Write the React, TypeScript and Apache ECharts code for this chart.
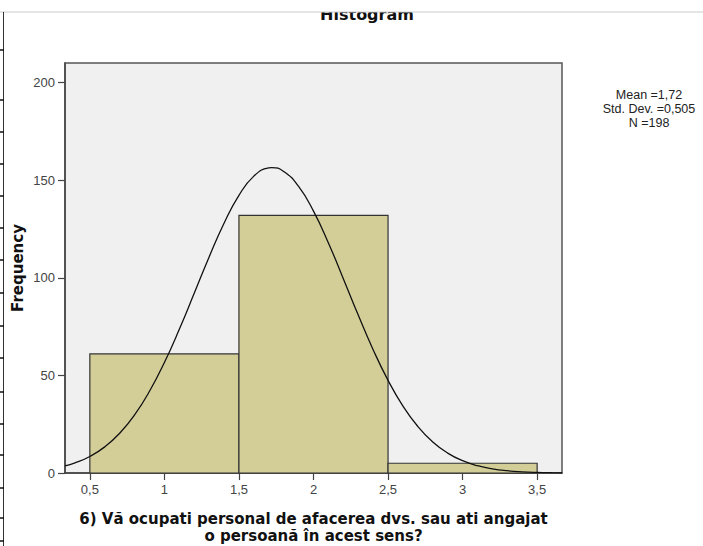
import React, { useEffect, useRef } from "react";
import * as echarts from "echarts";

// Histogram bins (value 1, 2, 3) and their frequencies
const binStart = [0.5, 1.5, 2.5];
const binEnd = [1.5, 2.5, 3.5];
const frequencies = [61, 132, 5];

// Normal curve (Mean 1.72, SD 0.505, N 198)
const curveX = [0.333, 0.4, 0.5, 0.6, 0.7, 0.8, 0.9, 1.0, 1.1, 1.2, 1.3, 1.4, 1.5, 1.6, 1.7, 1.72, 1.8, 1.9, 2.0, 2.1, 2.2, 2.3, 2.4, 2.5, 2.6, 2.7, 2.8, 2.9, 3.0, 3.1, 3.2, 3.3, 3.4, 3.5, 3.6, 3.667];
const curveY = [3.6, 5.14, 8.45, 13.38, 20.34, 29.76, 41.85, 56.6, 73.61, 92.04, 110.67, 127.95, 142.24, 152.05, 156.28, 156.4, 154.45, 146.77, 134.12, 117.84, 99.55, 80.87, 63.17, 47.45, 34.26, 23.8, 15.89, 10.2, 6.3, 3.74, 2.13, 1.17, 0.62, 0.31, 0.15, 0.09];

const xTicks = [0.5, 1, 1.5, 2, 2.5, 3, 3.5];
const yTicks = [0, 50, 100, 150, 200];

const statsLines = ["Mean =1,72", "Std. Dev. =0,505", "N =198"];
const titleText = "Histogram";
const xAxisTitle = "6) Vă ocupati personal de afacerea dvs. sau ati angajat\no persoană în acest sens?";
const yAxisTitle = "Frequency";

// decorative row marks of the cropped table on the left edge
const leftMarksY = [50, 100, 132, 164, 196, 228, 260, 293, 326, 358, 392, 424, 455, 488, 518, 541];

const FONT = "'Liberation Sans', Arial, sans-serif";
const BOLD_FONT = "'DejaVu Sans', Verdana, sans-serif";

export default function App() {
  const ref = useRef<HTMLDivElement>(null);

  useEffect(() => {
    if (!ref.current) return;
    const chart = echarts.init(ref.current, undefined, { renderer: "svg" });

    const barData = frequencies.map((f, i) => [binStart[i], binEnd[i], f]);
    const curveData = curveX.map((x, i) => [x, curveY[i]]);

    const leftGraphics: any[] = [
      {
        type: "line",
        shape: { x1: 3.5, y1: 12, x2: 3.5, y2: 546 },
        style: { stroke: "#333", lineWidth: 1 },
        z: 100,
      },
      ...leftMarksY.map((y) => ({
        type: "line",
        shape: { x1: 0, y1: y, x2: 4, y2: y },
        style: { stroke: "#111", lineWidth: 1.5 },
        z: 100,
      })),
    ];

    chart.setOption({
      animation: false,
      backgroundColor: "#ffffff",
      textStyle: { fontFamily: FONT },
      grid: {
        left: 65,
        right: 141,
        top: 63,
        bottom: 73,
        outerBoundsMode: "none",
        containLabel: false,
        show: true,
        backgroundColor: "#F0F0F0",
        borderColor: "#555555",
        borderWidth: 1.5,
      },
      xAxis: {
        type: "value",
        min: 1 / 3,
        max: 11 / 3,
        name: xAxisTitle,
        nameLocation: "middle",
        nameGap: 37,
        nameTextStyle: {
          fontFamily: BOLD_FONT,
          fontWeight: "bold",
          fontSize: 15,
          color: "#111",
          lineHeight: 17,
        },
        axisLine: { show: true, onZero: false, lineStyle: { color: "#444", width: 1.5 } },
        axisTick: {
          show: true,
          length: 7,
          customValues: xTicks,
          lineStyle: { color: "#444", width: 1.2 },
        },
        axisLabel: {
          show: true,
          customValues: xTicks,
          margin: 10,
          fontSize: 13,
          color: "#444",
          fontFamily: FONT,
          formatter: (v: number) => String(v).replace(".", ","),
        },
        splitLine: { show: false },
      },
      yAxis: {
        type: "value",
        min: 0,
        max: 210,
        name: yAxisTitle,
        nameLocation: "middle",
        nameGap: 40,
        nameMoveOverlap: false,
        nameTextStyle: {
          fontFamily: BOLD_FONT,
          fontWeight: "bold",
          fontSize: 15,
          color: "#111",
        },
        axisLine: { show: true, lineStyle: { color: "#444", width: 1.5 } },
        axisTick: {
          show: true,
          length: 7,
          customValues: yTicks,
          lineStyle: { color: "#444", width: 1.2 },
        },
        axisLabel: {
          show: true,
          customValues: yTicks,
          margin: 10,
          fontSize: 13,
          color: "#444",
          fontFamily: FONT,
        },
        splitLine: { show: false },
      },
      series: [
        {
          type: "custom",
          data: barData,
          encode: { x: [0, 1], y: 2 },
          renderItem: (params: any, api: any) => {
            const p0 = api.coord([api.value(0), api.value(2)]);
            const p1 = api.coord([api.value(1), 0]);
            return {
              type: "rect",
              shape: { x: p0[0], y: p0[1], width: p1[0] - p0[0], height: p1[1] - p0[1] },
              style: { fill: "#D3CE98", stroke: "#333", lineWidth: 1.2 },
            };
          },
          z: 2,
        },
        {
          type: "line",
          data: curveData,
          smooth: true,
          showSymbol: false,
          symbol: "none",
          lineStyle: { color: "#111", width: 1.3 },
          z: 3,
        },
      ],
      graphic: [
        {
          type: "text",
          x: 367,
          y: 22,
          style: {
            text: titleText,
            fontFamily: BOLD_FONT,
            fontWeight: "bold",
            fontSize: 16,
            fill: "#111",
            textAlign: "center",
            textVerticalAlign: "bottom",
          },
          z: 50,
        },
        {
          type: "rect",
          shape: { x: 0, y: 0, width: 703, height: 12 },
          style: { fill: "#ffffff" },
          z: 60,
        },
        {
          type: "line",
          shape: { x1: 0, y1: 12, x2: 703, y2: 12 },
          style: { stroke: "#cccccc", lineWidth: 1 },
          z: 61,
        },
        {
          type: "text",
          x: 649,
          y: 88,
          style: {
            text: statsLines.join("\n"),
            fontFamily: FONT,
            fontSize: 12.5,
            lineHeight: 14,
            fill: "#222",
            textAlign: "center",
            textVerticalAlign: "top",
          },
          z: 50,
        },
        ...leftGraphics,
      ],
    });

    return () => chart.dispose();
  }, []);

  return (
    <div
      ref={ref}
      style={{ position: "fixed", left: 0, top: 0, width: 703, height: 546 }}
    />
  );
}
